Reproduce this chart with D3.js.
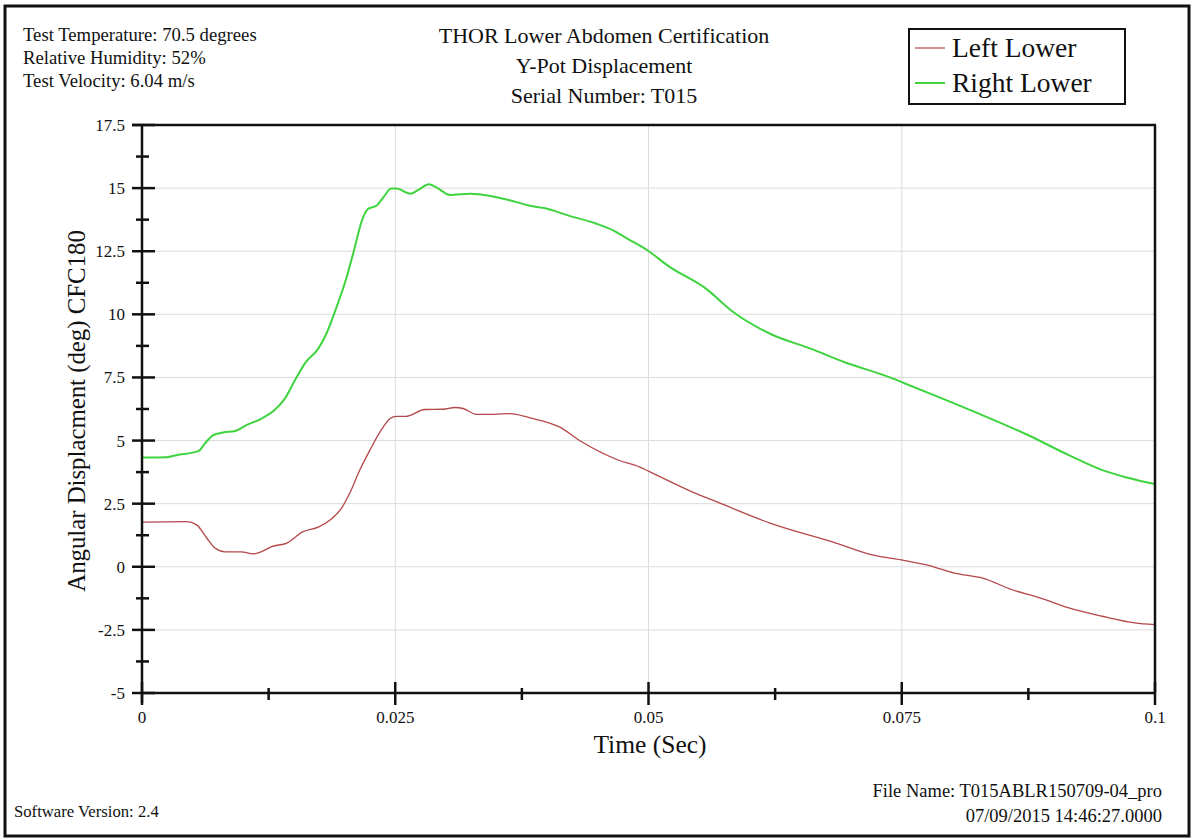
<!DOCTYPE html>
<html>
<head>
<meta charset="utf-8">
<script src="https://cdn.jsdelivr.net/npm/d3@7"></script>
<style>
  html, body { margin: 0; padding: 0; background: #fff; }
  svg { display: block; }
  text { font-family: "Liberation Serif", "Times New Roman", serif; fill: #111; }
</style>
</head>
<body>
<svg id="chart" width="1195" height="839"></svg>
<script>
// ---- data ----
const infoLines = ["Test Temperature: 70.5 degrees", "Relative Humidity: 52%", "Test Velocity: 6.04 m/s"];
const titleLines = ["THOR Lower Abdomen Certification", "Y-Pot Displacement", "Serial Number: T015"];
const seriesNames = ["Left Lower", "Right Lower"];
const xTickValues = [0, 0.025, 0.05, 0.075, 0.1];
const xTickLabels = ["0", "0.025", "0.05", "0.075", "0.1"];
const yTickValues = [-5, -2.5, 0, 2.5, 5, 7.5, 10, 12.5, 15, 17.5];
const yTickLabels = ["-5", "-2.5", "0", "2.5", "5", "7.5", "10", "12.5", "15", "17.5"];
const xTitle = "Time (Sec)";
const yTitle = "Angular Displacment (deg) CFC180";
const footerLeft = "Software Version: 2.4";
const footerRight = ["File Name: T015ABLR150709-04_pro", "07/09/2015 14:46:27.0000"];

const leftTime = [0, 0.0044, 0.0054, 0.0064, 0.0072, 0.0082, 0.0098, 0.0110, 0.0118, 0.0128, 0.0143, 0.0159, 0.0174, 0.0186, 0.0197, 0.0205, 0.0215, 0.0225, 0.0235, 0.0245, 0.0251, 0.0261, 0.0279, 0.0297, 0.0309, 0.0317, 0.0330, 0.0347, 0.0363, 0.0383, 0.0412, 0.0434, 0.0470, 0.0491, 0.0501, 0.0543, 0.0567, 0.0620, 0.0685, 0.0721, 0.0752, 0.0778, 0.0802, 0.0830, 0.0859, 0.0887, 0.0915, 0.0948, 0.0980, 0.1];
const leftValues = [1.77, 1.79, 1.66, 1.13, 0.74, 0.59, 0.59, 0.51, 0.60, 0.80, 0.94, 1.39, 1.57, 1.86, 2.32, 2.91, 3.83, 4.62, 5.34, 5.87, 5.96, 5.96, 6.23, 6.24, 6.31, 6.27, 6.04, 6.04, 6.07, 5.90, 5.54, 4.95, 4.23, 3.96, 3.77, 2.97, 2.58, 1.73, 0.94, 0.47, 0.25, 0.04, -0.25, -0.45, -0.91, -1.24, -1.63, -1.96, -2.22, -2.29];

const rightTime = [0, 0.0024, 0.0034, 0.0056, 0.0062, 0.0070, 0.0080, 0.0092, 0.0103, 0.0118, 0.0130, 0.0141, 0.0151, 0.0161, 0.0174, 0.0182, 0.0192, 0.0202, 0.0210, 0.0217, 0.0223, 0.0232, 0.0238, 0.0246, 0.0251, 0.0265, 0.0274, 0.0283, 0.0291, 0.0304, 0.0324, 0.0344, 0.0363, 0.0383, 0.0397, 0.0422, 0.0448, 0.0466, 0.0480, 0.0501, 0.0519, 0.0557, 0.0584, 0.0620, 0.0660, 0.0693, 0.0737, 0.0752, 0.0786, 0.0830, 0.0875, 0.0915, 0.0948, 0.0972, 0.1];
const rightValues = [4.33, 4.34, 4.42, 4.59, 4.88, 5.21, 5.32, 5.38, 5.61, 5.87, 6.18, 6.66, 7.39, 8.07, 8.64, 9.23, 10.28, 11.47, 12.65, 13.70, 14.17, 14.32, 14.62, 14.98, 14.98, 14.78, 14.96, 15.15, 15.02, 14.73, 14.78, 14.69, 14.52, 14.30, 14.21, 13.90, 13.60, 13.31, 12.98, 12.48, 11.93, 11.01, 10.08, 9.23, 8.64, 8.11, 7.52, 7.28, 6.73, 6.00, 5.21, 4.42, 3.83, 3.54, 3.28];

const seriesColors = ["#b4474a", "#3fd43f"];

// ---- layout ----
const svg = d3.select("#chart");
const L = 142, R = 1155, T = 125, B = 693;
const x = d3.scaleLinear().domain([0, 0.1]).range([L, R]);
const y = d3.scaleLinear().domain([-5, 17.5]).range([B, T]);

// outer frame
svg.append("rect").attr("x", 5).attr("y", 6).attr("width", 1184).attr("height", 830)
  .attr("fill", "none").attr("stroke", "#111").attr("stroke-width", 3);

// header info
svg.append("g").selectAll("text").data(infoLines).join("text")
  .attr("x", 23).attr("y", (d, i) => 41 + i * 23)
  .attr("font-size", 18.7).text(d => d);

svg.append("g").selectAll("text").data(titleLines).join("text")
  .attr("x", 604).attr("y", (d, i) => 43 + i * 30)
  .attr("text-anchor", "middle").attr("font-size", 22).text(d => d);

// legend
const leg = svg.append("g");
leg.append("rect").attr("x", 909).attr("y", 29).attr("width", 216).attr("height", 75)
  .attr("fill", "#fff").attr("stroke", "#111").attr("stroke-width", 2);
seriesNames.forEach((name, i) => {
  const cy = 48 + i * 35;
  leg.append("line").attr("x1", 915).attr("x2", 945).attr("y1", cy).attr("y2", cy)
    .attr("stroke", seriesColors[i]).attr("stroke-width", i === 1 ? 2 : 1.2);
  leg.append("text").attr("x", 952).attr("y", cy + 9).attr("font-size", 27.5).text(name);
});

// gridlines
const grid = svg.append("g").attr("stroke", "#dcdcdc").attr("stroke-width", 1);
grid.selectAll("line.h").data(yTickValues.filter(v => v > -5 && v < 17.5)).join("line")
  .attr("x1", L).attr("x2", R).attr("y1", d => y(d)).attr("y2", d => y(d));
grid.selectAll("line.v").data(xTickValues.filter(v => v > 0 && v < 0.1)).join("line")
  .attr("y1", T).attr("y2", B).attr("x1", d => x(d)).attr("x2", d => x(d));

// curves
const line = d3.line().x(d => x(d[0])).y(d => y(d[1])).curve(d3.curveMonotoneX);
const leftData = leftTime.map((t, i) => [t, leftValues[i]]);
const rightData = rightTime.map((t, i) => [t, rightValues[i]]);
svg.append("path").datum(leftData).attr("d", line).attr("fill", "none")
  .attr("stroke", seriesColors[0]).attr("stroke-width", 1.3);
svg.append("path").datum(rightData).attr("d", line).attr("fill", "none")
  .attr("stroke", seriesColors[1]).attr("stroke-width", 2);

// frame lines
const ax = svg.append("g").attr("stroke", "#111").attr("stroke-width", 2.5);
ax.append("line").attr("x1", 132).attr("x2", R + 1).attr("y1", T).attr("y2", T);
ax.append("line").attr("x1", R).attr("x2", R).attr("y1", T).attr("y2", B);
ax.append("line").attr("x1", L).attr("x2", L).attr("y1", T).attr("y2", 703);
ax.append("line").attr("x1", L).attr("x2", R + 1).attr("y1", B).attr("y2", B);

// y ticks
const yMinor = yTickValues.slice(0, -1).map(v => v + 1.25);
ax.selectAll("line.ym").data(yTickValues).join("line")
  .attr("x1", L - 10).attr("x2", L + 13).attr("y1", d => y(d)).attr("y2", d => y(d));
ax.selectAll("line.yn").data(yMinor).join("line")
  .attr("x1", L - 6).attr("x2", L + 7).attr("y1", d => y(d)).attr("y2", d => y(d));
// x ticks
const xMinor = xTickValues.slice(0, -1).map(v => v + 0.0125);
ax.selectAll("line.xm").data(xTickValues).join("line")
  .attr("x1", d => x(d)).attr("x2", d => x(d)).attr("y1", B - 11).attr("y2", B + 12);
ax.selectAll("line.xn").data(xMinor).join("line")
  .attr("x1", d => x(d)).attr("x2", d => x(d)).attr("y1", B - 5).attr("y2", B + 7);

// tick labels
svg.append("g").selectAll("text").data(yTickValues).join("text")
  .attr("x", 125).attr("y", d => y(d) + 6).attr("text-anchor", "end")
  .attr("font-size", 17).text((d, i) => yTickLabels[i]);
svg.append("g").selectAll("text").data(xTickValues).join("text")
  .attr("x", d => x(d)).attr("y", 723).attr("text-anchor", "middle")
  .attr("font-size", 17).text((d, i) => xTickLabels[i]);

// axis titles
svg.append("text").attr("x", 650).attr("y", 753).attr("text-anchor", "middle")
  .attr("font-size", 25.5).text(xTitle);
svg.append("text").attr("transform", "translate(85,411) rotate(-90)")
  .attr("text-anchor", "middle").attr("font-size", 24.8).text(yTitle);

// footer
svg.append("text").attr("x", 14).attr("y", 817).attr("font-size", 16.7).text(footerLeft);
svg.append("g").selectAll("text").data(footerRight).join("text")
  .attr("x", 1162).attr("y", (d, i) => 797 + i * 25).attr("text-anchor", "end")
  .attr("font-size", 18.5).text(d => d);
</script>
</body>
</html>
